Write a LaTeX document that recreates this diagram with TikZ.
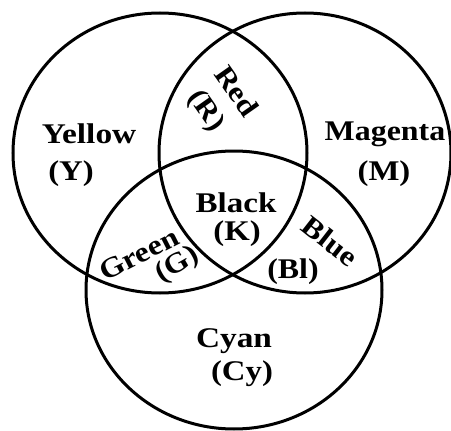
\documentclass[tikz,border=0pt]{standalone}
\usepackage{fontspec}
\setmainfont{Liberation Serif}
\begin{document}
\begin{tikzpicture}[x=1pt,y=-1pt,
  ring/.style={line width=3pt,black},
  lbl/.style={font=\bfseries\fontsize{28.5}{30}\selectfont,inner sep=0pt,text=black}]
\useasboundingbox (0,0) rectangle (451,431);
% circles
\draw[ring] (160,153) ellipse [x radius=147pt, y radius=140pt];
\draw[ring] (305,153) ellipse [x radius=146pt, y radius=140pt];
\draw[ring] (234,290) ellipse [x radius=148pt, y radius=139pt];
% labels
\node[lbl] (yel) at (89,134) {\scalebox{1.17}[1]{Yellow}};
\node[lbl] (yels) at (71,174) {\scalebox{1.15}[1]{(Y)}};
\node[lbl] (mag) at (385,134) {\scalebox{1.12}[1]{Magenta}};
\node[lbl] (mags) at (384,174) {\scalebox{1.15}[1]{(M)}};
\node[lbl] (blk) at (236,203) {\scalebox{1.16}[1]{Black}};
\node[lbl] (blks) at (237,234) {\scalebox{1.15}[1]{(K)}};
\node[lbl] (cyn) at (234,341) {\scalebox{1.17}[1]{Cyan}};
\node[lbl] (cyns) at (242,374) {\scalebox{1.15}[1]{(Cy)}};
\node[lbl,rotate=-55] (red) at (237,91) {\scalebox{1.12}[1]{Red}};
\node[lbl,rotate=-55] (reds) at (206,111) {\scalebox{1.1}[1]{(R)}};
\node[lbl,rotate=27] (grn) at (139,254) {\scalebox{1.12}[1]{Green}};
\node[lbl,rotate=30] (grns) at (178,265) {\scalebox{1.1}[1]{(G)}};
\node[lbl,rotate=-38] (blu) at (330,241) {\scalebox{1.12}[1]{Blue}};
\node[lbl] (blus) at (293,272) {\scalebox{1.12}[1]{(Bl)}};
\end{tikzpicture}
\end{document}
